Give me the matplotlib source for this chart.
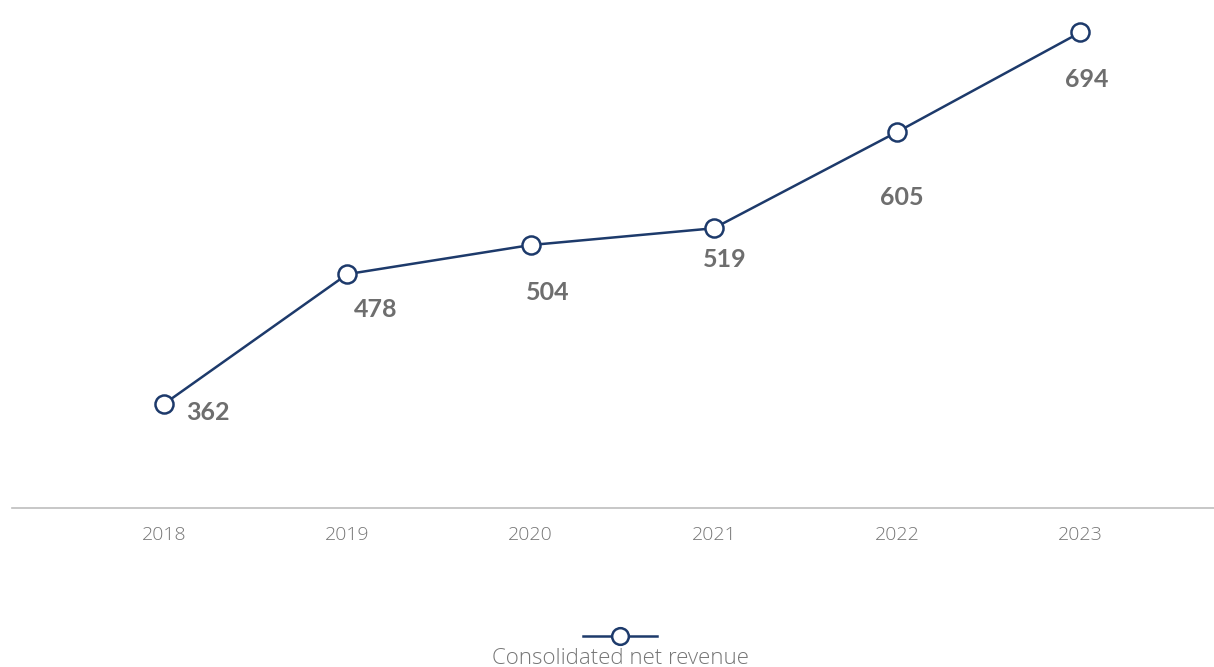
import matplotlib.pyplot as plt
from matplotlib.lines import Line2D

# Consolidated net revenue per year
years = ['2018', '2019', '2020', '2021', '2022', '2023']
revenue = [362, 478, 504, 519, 605, 694]

# where each value label sits relative to its point (pixels, right / down)
label_offsets = [(44, -9), (28, -35), (17, -47), (11, -31), (5, -65), (7, -47)]

NAVY = '#1d3a6b'
GREY_TEXT = '#6e6e6e'
LIGHT_TEXT = '#767676'
THIN_FONT = ['Open Sans', 'DejaVu Sans']

plt.rcParams['font.family'] = ['Lato', 'DejaVu Sans']

fig = plt.figure(figsize=(12.14, 6.67), dpi=100)
ax = fig.add_axes([12 / 1214, 1 - 508 / 667, 1 - 12 / 1214, 508 / 667])

x = list(range(len(years)))
ax.plot(x, revenue, color=NAVY, linewidth=1.8, marker='o', markersize=13,
        markerfacecolor='white', markeredgecolor=NAVY, markeredgewidth=1.8,
        zorder=3, clip_on=False)

for xi, val, (dx, dy) in zip(x, revenue, label_offsets):
    ax.annotate(str(val), (xi, val), xytext=(dx, dy), textcoords='offset pixels',
                ha='center', va='center', fontsize=18, fontweight='bold',
                color=GREY_TEXT)

ax.set_xlim(-0.83, 5.73)
ax.set_ylim(269, 723)
ax.set_xticks(x)
ax.set_xticklabels(years, family=THIN_FONT, fontweight='light')
ax.set_yticks([])
ax.tick_params(axis='x', length=0, pad=13, labelsize=14, labelcolor=LIGHT_TEXT)

for side in ['left', 'right', 'top']:
    ax.spines[side].set_visible(False)
ax.spines['bottom'].set_color('#bdbdbd')
ax.spines['bottom'].set_linewidth(1.2)

# legend: handle above its label, centred under the plot
fig.add_artist(Line2D([583 / 1214, 657 / 1214], [1 - 636 / 667] * 2,
                      color=NAVY, linewidth=1.8, transform=fig.transFigure))
fig.add_artist(Line2D([620 / 1214], [1 - 636 / 667], marker='o', markersize=12,
                      markerfacecolor='white', markeredgecolor=NAVY,
                      markeredgewidth=1.8, transform=fig.transFigure))
fig.text(620 / 1214, 1 - 658 / 667, 'Consolidated net revenue', ha='center',
         va='center', fontsize=16, color=LIGHT_TEXT, family=THIN_FONT,
         fontweight='light')

fig.savefig('out.png', dpi=100, facecolor='white')
